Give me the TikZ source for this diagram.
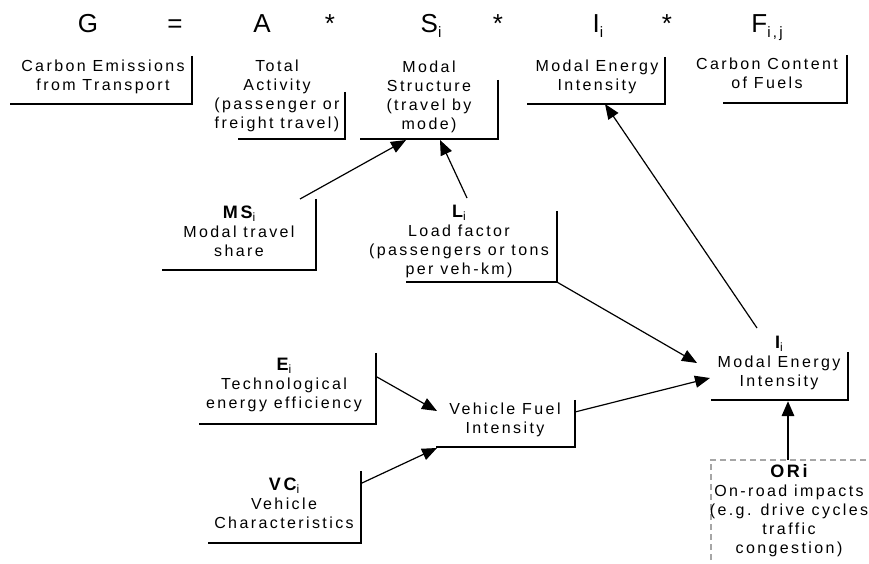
\documentclass[tikz,border=0pt]{standalone}
\usepackage{fontspec}
\setmainfont{Liberation Sans}[LetterSpace=15]
\usetikzlibrary{arrows.meta,fit}
\newcommand\bigsub[1]{\raisebox{-5pt}{\fontsize{15}{15}\selectfont #1}}
\newcommand\smsub[1]{\raisebox{-3pt}{\fontsize{12}{12}\selectfont #1}}
\newcommand\bl[1]{{\fontsize{18}{19}\selectfont\bfseries #1}}
\newcommand\lframe[5]{\node[fit={(#2,#3)(#4,#5)},inner sep=0pt] (#1) {};
  \draw[frame] (#1.north east) -- (#1.south east) -- (#1.south west);}
\begin{document}
\begin{tikzpicture}[x=1pt,y=-1pt,
  txt/.style={align=center, font=\fontsize{16}{19}\selectfont, inner sep=0pt},
  big/.style={font=\fontsize{26}{30}\selectfont, inner sep=0pt, anchor=base},
  frame/.style={line width=1.8pt, line join=miter},
  arr/.style={line width=1.2pt, -{Triangle[length=15pt,width=12pt]}},
  thickarr/.style={line width=2.8pt, -{Triangle[length=15pt,width=12pt]}},
  dashbox/.style={draw=gray!70, line width=1.6pt, dash pattern=on 6pt off 4pt}
]
\useasboundingbox (0,0) rectangle (869,564);
\fill[white] (0,0) rectangle (869,564);

% top equation
\node[big] (g)  at (88,33)  {G};
\node[big] (eq) at (175,33) {=};
\node[big] (sa) at (262,33) {A};
\node[big] (st1) at (330,33) {*};
\node[big] (s)  at (431,33) {S\bigsub{i}};
\node[big] (st2) at (498,33) {*};
\node[big] (ii) at (598,33) {I\bigsub{i}};
\node[big] (st3) at (667,33) {*};
\node[big] (f)  at (767,33) {F\bigsub{i,j}};

% frames
\lframe{ce}{10}{56}{192}{104}
\lframe{ta}{238}{92}{345}{139}
\lframe{ms}{360}{80}{498}{139}
\lframe{mei}{527}{57}{665}{104}
\lframe{ccf}{723}{55}{847}{103}
\lframe{mss}{162}{199}{316}{270}
\lframe{lf}{406}{211}{557}{282}
\lframe{iie}{711}{352}{848}{400}
\lframe{ei}{199}{353}{376}{424}
\lframe{vfi}{436}{400}{575}{447}
\lframe{vc}{208}{471}{361}{543}
\node[fit={(711,460)(890,600)},inner sep=0pt] (ori) {};
\draw[dashbox] (ori.south west) -- (ori.north west) -- (ori.north east);

% texts
\node[txt] (ce-t)  at (103,77) {Carbon Emissions\\from Transport};
\node[txt] (ta-t)  at (277,96)   {Total\\Activity\\(passenger or\\freight travel)};
\node[txt] (ms-t)  at (429,97)   {Modal\\Structure\\(travel by\\mode)};
\node[txt] (mei-t) at (597,77) {Modal Energy\\Intensity};
\node[txt] (ccf-t) at (767,73) {Carbon Content\\of Fuels};
\node[txt] (mss-t) at (239,231)  {\bl{MS}\smsub{i}\\Modal travel\\share};
\node[txt] (lf-t)  at (459,241)  {\bl{L}\smsub{i}\\Load factor\\(passengers or tons\\per veh-km)};
\node[txt] (iie-t) at (779,362.5){\bl{I}\smsub{i}\\Modal Energy\\Intensity};
\node[txt] (ei-t)  at (284,385)  {\bl{E}\smsub{i}\\Technological\\energy efficiency};
\node[txt] (vfi-t) at (505,420){Vehicle Fuel\\Intensity};
\node[txt] (vc-t)  at (284,503)  {\bl{VC}\smsub{i}\\Vehicle\\Characteristics};
\node[txt] (ori-t) at (789,511)  {\bl{ORi}\\On-road impacts\\(e.g. drive cycles\\traffic\\congestion)};

% connector end points
\coordinate (c1s) at (300,199);
\coordinate (c1e) at (406,140);
\coordinate (c2s) at (467,198);
\coordinate (c2e) at (440,140);
\coordinate (c3e) at (697,363);
\coordinate (c4s) at (575,412);
\coordinate (c4e) at (710,378);
\coordinate (c5s) at (377,377);
\coordinate (c5e) at (437,411);
\coordinate (c6s) at (362,483);
\coordinate (c6e) at (437,448);
\coordinate (c7s) at (757,328);
\coordinate (c7e) at (605,104);
\coordinate (c8s) at (788,460);
\coordinate (c8e) at (788,401);

\draw[arr] (c1s) -- (c1e);
\draw[arr] (c2s) -- (c2e);
\draw[arr] (lf.south east) -- (c3e);
\draw[arr] (c4s) -- (c4e);
\draw[arr] (c5s) -- (c5e);
\draw[arr] (c6s) -- (c6e);
\draw[arr] (c7s) -- (c7e);
\draw[thickarr] (c8s) -- (c8e);
\end{tikzpicture}
\end{document}
